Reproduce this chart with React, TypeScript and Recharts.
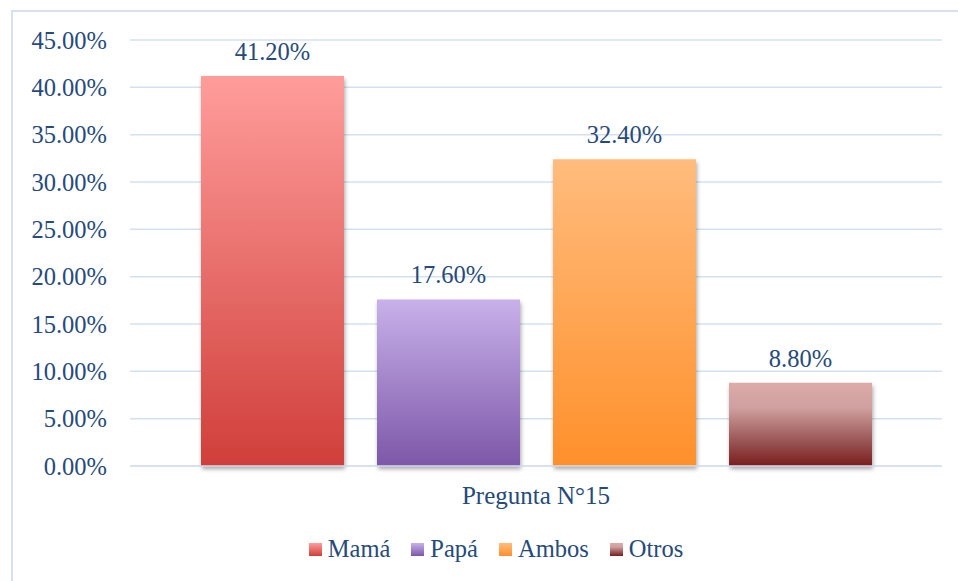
import { BarChart, Bar, XAxis, YAxis, CartesianGrid, Legend, LabelList } from 'recharts';

const categories = ['Pregunta N°15'];
const seriesNames = ['Mamá', 'Papá', 'Ambos', 'Otros'];
const seriesValues = [41.2, 17.6, 32.4, 8.8];
const yTicks = [0, 5, 10, 15, 20, 25, 30, 35, 40, 45];

const keys = ['mama', 'papa', 'ambos', 'otros'];

const data = categories.map((name) => {
  const row: Record<string, string | number> = { name };
  keys.forEach((k, i) => {
    row[k] = seriesValues[i];
  });
  return row;
});

const gradients = [
  { id: 'gMama', stops: [['0%', '#FF9D9B'], ['100%', '#D03F3A']] },
  { id: 'gPapa', stops: [['0%', '#C8B1EA'], ['100%', '#7D57A8']] },
  { id: 'gAmbos', stops: [['0%', '#FFBC7D'], ['100%', '#FF902B']] },
  { id: 'gOtros', stops: [['0%', '#DCABAA'], ['30%', '#CFA09F'], ['70%', '#9A5555'], ['100%', '#7A1D1E']] },
];

const FONT = '"Liberation Serif", serif';
const FS = 24.5;
const TEXT = '#264A7A';
const GRID = '#D5E0F0';

const fmt = (v: number) => `${Number(v).toFixed(2)}%`;

const LegendContent = () => (
  <div
    style={{
      display: 'flex',
      justifyContent: 'center',
      alignItems: 'center',
      paddingTop: 21,
      paddingLeft: 50,
      fontFamily: FONT,
      fontSize: FS,
      color: TEXT,
      lineHeight: 1,
    }}
  >
    {seriesNames.map((n, i) => (
      <div key={n} style={{ display: 'flex', alignItems: 'center', marginRight: i < 3 ? 21 : 0 }}>
        <svg width={13} height={13} style={{ marginRight: 6 }}>
          <rect width={13} height={13} fill={`url(#${gradients[i].id})`} />
        </svg>
        <span>{n}</span>
      </div>
    ))}
  </div>
);

export default function App() {
  return (
    <div style={{ position: 'absolute', left: 0, top: 0, width: 958, height: 581, background: '#fff' }}>
      <div
        style={{
          position: 'absolute',
          left: 11,
          top: 10,
          width: 960,
          height: 600,
          borderLeft: `2px solid ${GRID}`,
          borderTop: `2px solid ${GRID}`,
        }}
      />
      <div style={{ position: 'absolute', left: 0, top: 0 }}>
        <BarChart
          width={958}
          height={581}
          data={data}
          margin={{ top: 40, right: 16, left: 0, bottom: 15 }}
          barCategoryGap={71}
          barGap={33}
        >
          <defs>
            {gradients.map((g) => (
              <linearGradient key={g.id} id={g.id} x1="0" y1="0" x2="0" y2="1">
                {g.stops.map(([o, c]) => (
                  <stop key={o} offset={o} stopColor={c} />
                ))}
              </linearGradient>
            ))}
            <filter id="shadow" x="-10%" y="-10%" width="130%" height="130%">
              <feDropShadow dx="1" dy="3" stdDeviation="2" floodColor="#000" floodOpacity="0.35" />
            </filter>
          </defs>
          <CartesianGrid vertical={false} stroke={GRID} strokeWidth={1.5} />
          <XAxis
            dataKey="name"
            height={50}
            tickLine={false}
            axisLine={{ stroke: GRID, strokeWidth: 1.5 }}
            tickMargin={14}
            tick={{ fill: TEXT, fontFamily: FONT, fontSize: 25 }}
          />
          <YAxis
            width={130}
            domain={[0, 45]}
            ticks={yTicks}
            tickFormatter={fmt}
            tickLine={false}
            axisLine={false}
            tickMargin={17}
            tick={{ fill: TEXT, fontFamily: FONT, fontSize: FS }}
          />
          <Legend verticalAlign="bottom" height={50} content={<LegendContent />} />
          {keys.map((k, i) => (
            <Bar
              key={k}
              dataKey={k}
              name={seriesNames[i]}
              fill={`url(#${gradients[i].id})`}
              filter="url(#shadow)"
              isAnimationActive={false}
            >
              <LabelList
                dataKey={k}
                position="top"
                offset={16}
                formatter={(v: number) => fmt(v)}
                style={{ fill: TEXT, fontFamily: FONT, fontSize: FS }}
              />
            </Bar>
          ))}
        </BarChart>
      </div>
    </div>
  );
}
